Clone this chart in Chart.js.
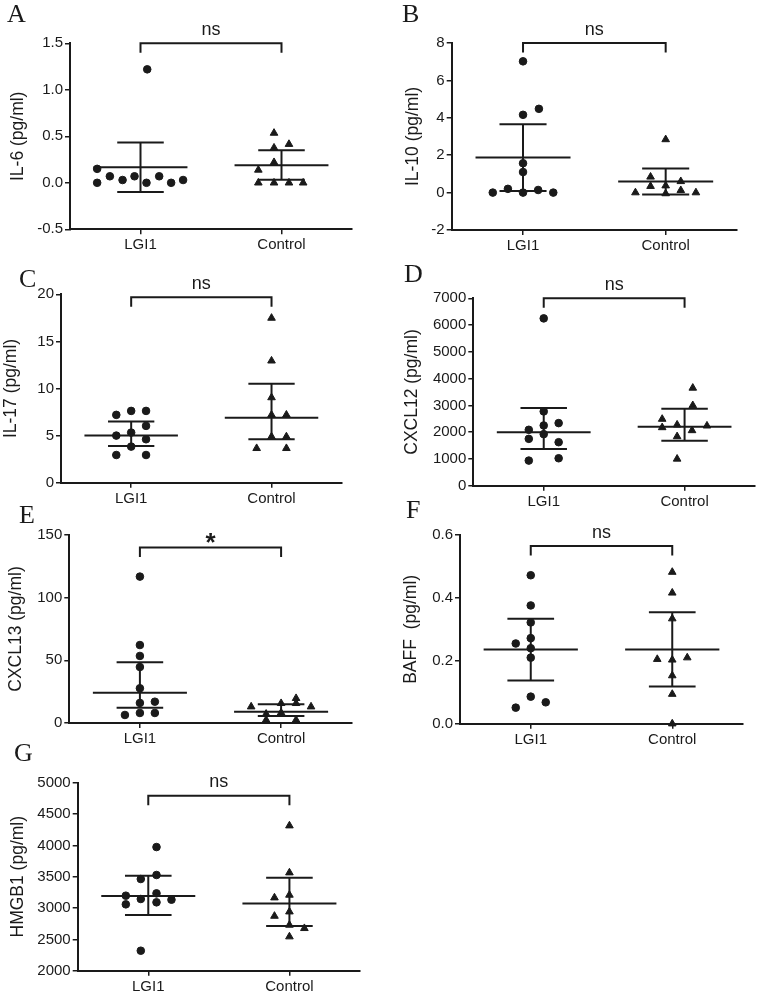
<!DOCTYPE html>
<html>
<head>
<meta charset="utf-8">
<script src="https://cdn.jsdelivr.net/npm/chart.js@4/dist/chart.umd.min.js"></script>
<style>
  body { margin: 0; background: #fff; width: 761px; height: 999px; position: relative; overflow: hidden; }
  canvas { position: absolute; }
</style>
</head>
<body>
<script>
const groups = ["LGI1", "Control"]

// A - IL-6
const il6Ticks = [-0.5, 0, 0.5, 1, 1.5]
const il6Lgi1 = [1.22, 0.15, 0, 0.07, 0.03, 0.07, 0, 0.07, 0, 0.03]
const il6Lgi1Slot = [0.45, -2.9, -2.9, -2.05, -1.2, -0.4, 0.4, 1.25, 2.05, 2.85]
const il6Ctrl = [0.535, 0.376, 0.415, 0.22, 0.138, 0, 0, 0, 0]
const il6CtrlSlot = [-0.5, -0.5, 0.5, -0.5, -1.55, -1.55, -0.5, 0.5, 1.45]
const il6Mean = [0.167, 0.19]
const il6Hi = [0.433, 0.35]
const il6Lo = [-0.1, 0.032]

// B - IL-10
const il10Ticks = [-2, 0, 2, 4, 6, 8]
const il10Lgi1 = [7.02, 4.16, 4.48, 1.57, 1.1, 0, 0.2, 0, 0.14, 0]
const il10Lgi1Slot = [0, 0, 1.05, 0, 0, -2, -1, 0, 1, 2]
const il10Ctrl = [2.84, 0.84, 0.34, 0.37, 0.6, 0, -0.05, 0.12, 0]
const il10CtrlSlot = [0, -1, -1, 0, 1, -2, 0, 1, 2]
const il10Mean = [1.875, 0.6]
const il10Hi = [3.66, 1.29]
const il10Lo = [0.09, -0.1]

// C - IL-17
const il17Ticks = [0, 5, 10, 15, 20]
const il17Lgi1 = [7.2, 7.62, 7.62, 6.03, 5.0, 5.32, 4.61, 2.94, 3.83, 2.94]
const il17Lgi1Slot = [-1, 0, 1, 1, -1, 0, 1, -1, 0, 1]
const il17Ctrl = [17.48, 12.94, 9.04, 7.2, 7.2, 4.89, 4.89, 3.65, 3.65]
const il17CtrlSlot = [0, 0, 0, 0, 1, 0, 1, -1, 1]
const il17Mean = [5.0, 6.9]
const il17Hi = [6.49, 10.5]
const il17Lo = [3.9, 4.6]

// D - CXCL12
const cxcl12Ticks = [0, 1000, 2000, 3000, 4000, 5000, 6000, 7000]
const cxcl12Lgi1 = [6250, 2775, 2088, 2250, 2338, 1750, 1925, 1625, 938, 1025]
const cxcl12Lgi1Slot = [0, 0, -1, 0, 1, -1, 0, 1, -1, 1]
const cxcl12Ctrl = [3650, 3000, 2488, 2175, 2275, 2063, 2238, 1838, 1000]
const cxcl12CtrlSlot = [0.55, 0.55, -1.5, -1.5, -0.5, 0.5, 1.5, -0.5, -0.5]
const cxcl12Mean = [2000, 2200]
const cxcl12Hi = [2900, 2875]
const cxcl12Lo = [1375, 1675]

// E - CXCL13
const cxcl13Ticks = [0, 50, 100, 150]
const cxcl13Lgi1 = [116.8, 62.2, 53.5, 44.7, 27.7, 16, 17, 6.4, 8, 8]
const cxcl13Lgi1Slot = [0, 0, 0, 0, 0, 0, 1, -1, 0, 1]
const cxcl13Ctrl = [13.0, 7.2, 2.4, 15.7, 8.2, 19.7, 15.7, 2.4, 13.0]
const cxcl13CtrlSlot = [-2, -1, -1, 0, 0, 1, 1, 1, 2]
const cxcl13Mean = [24.2, 9.0]
const cxcl13Hi = [48.4, 14.9]
const cxcl13Lo = [12.2, 5.6]

// F - BAFF
const baffTicks = [0, 0.2, 0.4, 0.6]
const baffLgi1 = [0.472, 0.376, 0.322, 0.272, 0.255, 0.24, 0.21, 0.086, 0.068, 0.051]
const baffLgi1Slot = [0, 0, 0, 0, -1, 0, 0, 0, 1, -1]
const baffCtrl = [0.482, 0.416, 0.334, 0.205, 0.203, 0.21, 0.153, 0.094, 0]
const baffCtrlSlot = [0, 0, 0, -1, 0, 1, 0, 0, 0]
const baffMean = [0.236, 0.236]
const baffHi = [0.334, 0.354]
const baffLo = [0.137, 0.118]

// G - HMGB1
const hmgb1Ticks = [2000, 2500, 3000, 3500, 4000, 4500, 5000]
const hmgb1Lgi1 = [3973, 3527, 3463, 3197, 3144, 3234, 3059, 3091, 3133, 2319]
const hmgb1Lgi1Slot = [0.55, 0.55, -0.5, -1.5, -0.5, 0.55, -1.5, 0.55, 1.55, -0.5]
const hmgb1Ctrl = [4314, 3564, 3208, 3165, 2872, 2941, 2729, 2676, 2543]
const hmgb1CtrlSlot = [0, 0, 0, -1, -1, 0, 0, 1, 0]
const hmgb1Mean = [3192, 3074]
const hmgb1Hi = [3516, 3484]
const hmgb1Lo = [2888, 2713]

const ink = '#1a1a1a'
const sans = 'Liberation Sans, Arial, sans-serif'
const slotW = 0.106

const panels = [
  { letter: 'A', title: 'IL-6 (pg/ml)', ticks: il6Ticks, dec: 1, lgi1: il6Lgi1, lgi1Slot: il6Lgi1Slot, ctrl: il6Ctrl, ctrlSlot: il6CtrlSlot,
    mean: il6Mean, hi: il6Hi, lo: il6Lo, bracket: 1.5, sig: 'ns',
    col: 0, L: 70, R: 352, top: 43.3, bottom: 229.3, letterAt: [7, 22], titleX: 18.5 },
  { letter: 'B', title: 'IL-10 (pg/ml)', ticks: il10Ticks, dec: 0, lgi1: il10Lgi1, lgi1Slot: il10Lgi1Slot, ctrl: il10Ctrl, ctrlSlot: il10CtrlSlot,
    mean: il10Mean, hi: il10Hi, lo: il10Lo, bracket: 8, sig: 'ns',
    col: 1, L: 451.7, R: 737, top: 43, bottom: 230, letterAt: [402, 22], titleX: 413 },
  { letter: 'C', title: 'IL-17 (pg/ml)', ticks: il17Ticks, dec: 0, lgi1: il17Lgi1, lgi1Slot: il17Lgi1Slot, ctrl: il17Ctrl, ctrlSlot: il17CtrlSlot,
    mean: il17Mean, hi: il17Hi, lo: il17Lo, bracket: 19.7, sig: 'ns',
    col: 0, L: 61, R: 341.7, top: 294.3, bottom: 482.7, letterAt: [19, 287], titleX: 11.5 },
  { letter: 'D', title: 'CXCL12 (pg/ml)', ticks: cxcl12Ticks, dec: 0, lgi1: cxcl12Lgi1, lgi1Slot: cxcl12Lgi1Slot, ctrl: cxcl12Ctrl, ctrlSlot: cxcl12CtrlSlot,
    mean: cxcl12Mean, hi: cxcl12Hi, lo: cxcl12Lo, bracket: 7000, sig: 'ns',
    col: 1, L: 473.3, R: 755, top: 298.3, bottom: 485.7, letterAt: [404, 282], titleX: 412 },
  { letter: 'E', title: 'CXCL13 (pg/ml)', ticks: cxcl13Ticks, dec: 0, lgi1: cxcl13Lgi1, lgi1Slot: cxcl13Lgi1Slot, ctrl: cxcl13Ctrl, ctrlSlot: cxcl13CtrlSlot,
    mean: cxcl13Mean, hi: cxcl13Hi, lo: cxcl13Lo, bracket: 140, sig: '*',
    col: 0, L: 69.3, R: 351.7, top: 535, bottom: 723, letterAt: [19, 523], titleX: 16.5 },
  { letter: 'F', title: 'BAFF  (pg/ml)', ticks: baffTicks, dec: 1, lgi1: baffLgi1, lgi1Slot: baffLgi1Slot, ctrl: baffCtrl, ctrlSlot: baffCtrlSlot,
    mean: baffMean, hi: baffHi, lo: baffLo, bracket: 0.565, sig: 'ns',
    col: 1, L: 460, R: 743, top: 535, bottom: 723.7, letterAt: [406, 518], titleX: 411.5 },
  { letter: 'G', title: 'HMGB1 (pg/ml)', ticks: hmgb1Ticks, dec: 0, lgi1: hmgb1Lgi1, lgi1Slot: hmgb1Lgi1Slot, ctrl: hmgb1Ctrl, ctrlSlot: hmgb1CtrlSlot,
    mean: hmgb1Mean, hi: hmgb1Hi, lo: hmgb1Lo, bracket: 4790, sig: 'ns',
    col: 0, L: 77.7, R: 360, top: 782.7, bottom: 970.7, letterAt: [14, 761], titleX: 18.5 }
]

const pts = (g, vals, slots) => vals.map((v, k) => ({ x: g + slots[k] * slotW, y: v }))

// mean +/- SD bars, significance bracket and panel letter
const overlay = (p, colLeft, top) => ({
  id: 'overlay' + p.letter,
  afterDatasetsDraw(chart) {
    const { ctx, scales: { x, y } } = chart
    ctx.save()
    ctx.strokeStyle = ink
    ctx.lineWidth = 2
    const hline = (g, half, v) => {
      ctx.beginPath()
      ctx.moveTo(x.getPixelForValue(g - half), y.getPixelForValue(v))
      ctx.lineTo(x.getPixelForValue(g + half), y.getPixelForValue(v))
      ctx.stroke()
    }
    p.mean.forEach((m, g) => {
      hline(g, 0.333, m)
      hline(g, 0.165, p.hi[g])
      hline(g, 0.165, p.lo[g])
      ctx.beginPath()
      ctx.moveTo(x.getPixelForValue(g), y.getPixelForValue(p.hi[g]))
      ctx.lineTo(x.getPixelForValue(g), y.getPixelForValue(p.lo[g]))
      ctx.stroke()
    })
    const by = y.getPixelForValue(p.bracket)
    const x0 = x.getPixelForValue(0), x1 = x.getPixelForValue(1)
    ctx.beginPath()
    ctx.moveTo(x0, by + 9.5)
    ctx.lineTo(x0, by)
    ctx.lineTo(x1, by)
    ctx.lineTo(x1, by + 9.5)
    ctx.stroke()

    ctx.fillStyle = ink
    ctx.textAlign = 'center'
    ctx.textBaseline = 'alphabetic'
    if (p.sig === '*') {
      ctx.font = 'bold 26px ' + sans
      ctx.fillText(p.sig, (x0 + x1) / 2, by + 3)
    } else {
      ctx.font = '18px ' + sans
      ctx.fillText(p.sig, (x0 + x1) / 2, by - 8.5)
    }
    ctx.textAlign = 'left'
    ctx.font = '26px Liberation Serif, Times New Roman, serif'
    ctx.fillText(p.letter, p.letterAt[0] - colLeft, p.letterAt[1] - top)
    ctx.restore()
  }
})

panels.forEach(p => {
  const colLeft = p.col ? 380 : 0
  const colW = p.col ? 381 : 380
  const top = Math.max(0, Math.round(p.top - 46))
  const h = Math.round(p.bottom + 30 - top)
  const cv = document.createElement('canvas')
  cv.width = colW
  cv.height = h
  cv.style.left = colLeft + 'px'
  cv.style.top = top + 'px'
  document.body.appendChild(cv)

  new Chart(cv, {
    type: 'scatter',
    data: {
      datasets: [
        { label: groups[0], data: pts(0, p.lgi1, p.lgi1Slot), pointStyle: 'circle', pointRadius: 3.8,
          backgroundColor: ink, borderColor: ink, borderWidth: 1, clip: false },
        { label: groups[1], data: pts(1, p.ctrl, p.ctrlSlot), pointStyle: 'triangle', pointRadius: 4.4,
          backgroundColor: ink, borderColor: ink, borderWidth: 1, clip: false }
      ]
    },
    options: {
      responsive: false,
      animation: false,
      devicePixelRatio: 1,
      events: [],
      layout: { padding: { top: p.top - top, right: colLeft + colW - p.R, left: 0, bottom: 0 } },
      plugins: { legend: { display: false }, tooltip: { enabled: false } },
      scales: {
        x: {
          type: 'linear', min: -0.5, max: 1.5,
          afterBuildTicks: s => { s.ticks = groups.map((g, i) => ({ value: i })) },
          afterFit: s => { s.height = h - (p.bottom - top) },
          grid: { display: true, drawOnChartArea: false, tickLength: 5, color: ink, lineWidth: 1.5 },
          border: { display: true, color: ink, width: 2 },
          ticks: { autoSkip: false, maxRotation: 0, padding: 2, color: ink, font: { family: sans, size: 15 },
            callback: v => groups[Math.round(v)] }
        },
        y: {
          type: 'linear', min: p.ticks[0], max: p.ticks[p.ticks.length - 1],
          afterBuildTicks: s => { s.ticks = p.ticks.map(v => ({ value: v })) },
          afterFit: s => { s.width = p.L - colLeft },
          grid: { display: true, drawOnChartArea: false, tickLength: 5, color: ink, lineWidth: 1.5 },
          border: { display: true, color: ink, width: 2 },
          ticks: { padding: 2, color: ink, font: { family: sans, size: 15 }, callback: v => v.toFixed(p.dec) },
          title: { display: true, text: p.title, color: ink, font: { family: sans, size: 17.5 },
            padding: { top: p.titleX - colLeft - 10.5, bottom: 0 } }
        }
      }
    },
    plugins: [overlay(p, colLeft, top)]
  })
})
</script>
</body>
</html>
